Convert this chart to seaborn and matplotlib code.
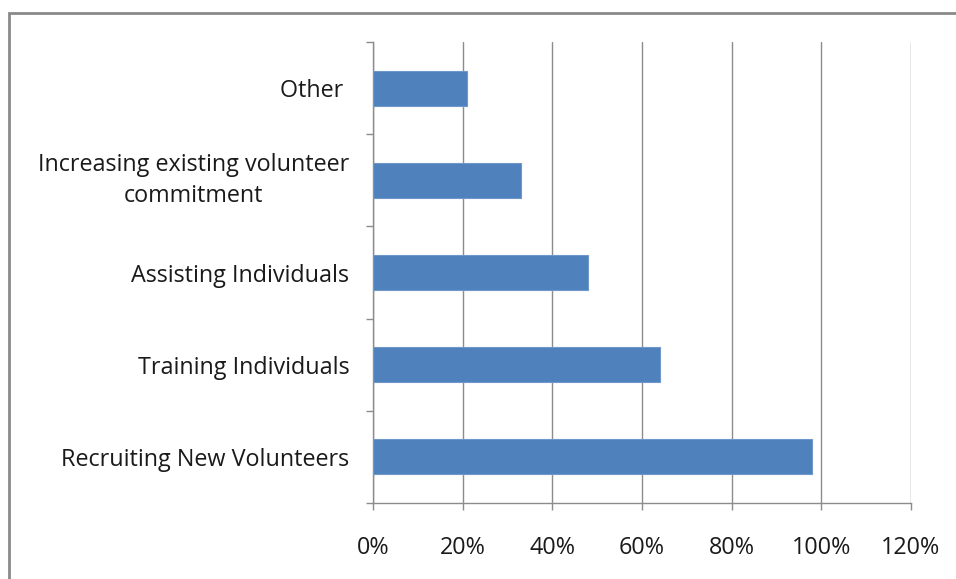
import matplotlib
matplotlib.use("Agg")
import matplotlib.pyplot as plt
import matplotlib.ticker as mticker
from matplotlib.patches import Rectangle
import seaborn as sns
import pandas as pd

categories = [
    "Other ",
    "Increasing existing volunteer\ncommitment",
    "Assisting Individuals",
    "Training Individuals",
    "Recruiting New Volunteers",
]
shares = [0.21, 0.33, 0.48, 0.64, 0.98]
x_ticks = [0.0, 0.2, 0.4, 0.6, 0.8, 1.0, 1.2]

sns.set_theme(style="white")
plt.rcParams["font.family"] = ["Open Sans", "DejaVu Sans"]

df = pd.DataFrame({"category": categories, "share": shares})

fig = plt.figure(figsize=(9.56, 5.79), dpi=100)
ax = fig.add_axes([373 / 956, 1 - 503 / 579, (911 - 373) / 956, (503 - 42) / 579])

sns.barplot(data=df, x="share", y="category", orient="h", color="#4F81BD",
            saturation=1, width=0.38, edgecolor="#6F97C9", linewidth=0.8, ax=ax, zorder=3)

ax.set_xlim(0, 1.2)
ax.set_ylim(4.5, -0.5)
ax.set_xticks(x_ticks)
ax.xaxis.set_major_formatter(mticker.FuncFormatter(lambda v, p: f"{v * 100:.0f}%"))
ax.set_xlabel("")
ax.set_ylabel("")

ax.grid(axis="x", color="#8C8C8C", linewidth=1, zorder=0)
ax.grid(axis="y", visible=False)
ax.set_axisbelow(True)

for side in ("top", "right"):
    ax.spines[side].set_visible(False)
for side in ("left", "bottom"):
    ax.spines[side].set_color("#8C8C8C")
    ax.spines[side].set_linewidth(1)

# category boundaries carry the y ticks
ax.set_yticks([i - 0.5 for i in range(len(categories) + 1)], minor=True)
ax.tick_params(axis="y", which="minor", length=5, width=1, color="#8C8C8C", left=True)
ax.tick_params(axis="y", which="major", length=0, pad=17, labelsize=16.8, labelcolor="#1A1A1A")
ax.tick_params(axis="x", which="major", length=5, width=1, color="#8C8C8C", bottom=True,
               pad=19, labelsize=16.8, labelcolor="#1A1A1A")
for lbl in ax.get_yticklabels():
    if "\n" in lbl.get_text():
        lbl.set_multialignment("center")
        lbl.set_linespacing(1.4)
        lbl.set_verticalalignment("center")

# chart-area frame
fig.patches.append(Rectangle((9 / 956, -0.05), 1.0, 1 - 13 / 579 + 0.05,
                             transform=fig.transFigure, fill=False,
                             edgecolor="#8A8A8A", linewidth=2))

fig.savefig("out.png", dpi=100, facecolor="white")
